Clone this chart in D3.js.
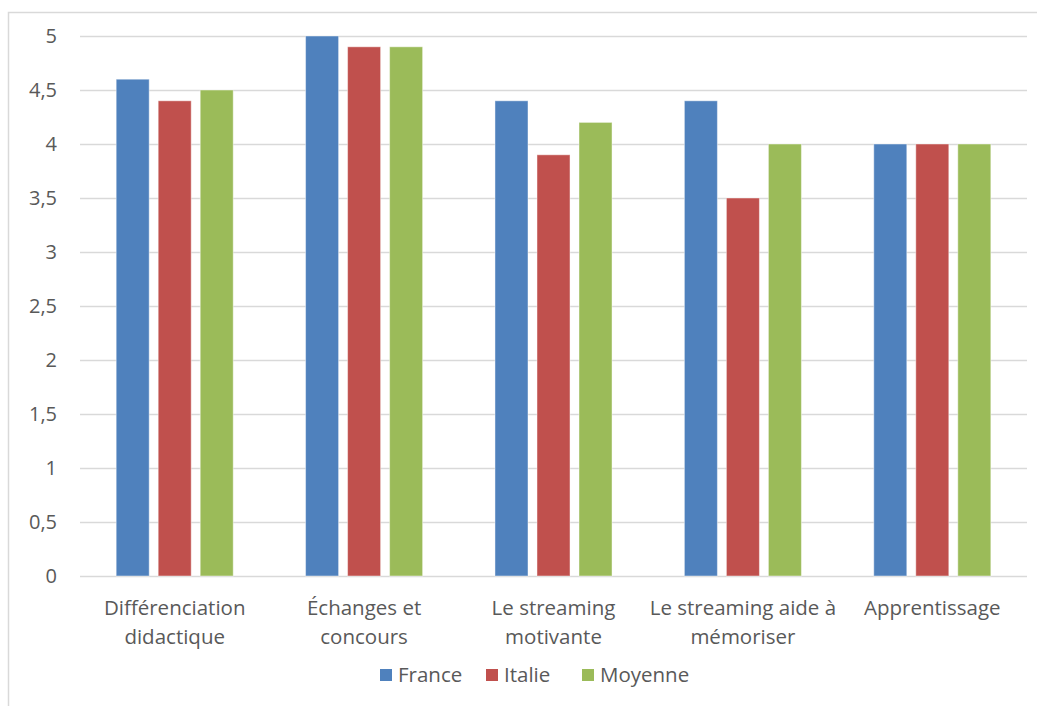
<!DOCTYPE html>
<html>
<head>
<meta charset="utf-8">
<script src="https://cdn.jsdelivr.net/npm/d3@7"></script>
<style>
  html, body { margin: 0; padding: 0; background: #fff; }
  svg { display: block; font-family: "Open Sans", "Liberation Sans", sans-serif; }
</style>
</head>
<body>
<svg id="chart" width="1037" height="706"></svg>
<script>
const categories = [
  ["Différenciation", "didactique"],
  ["Échanges et", "concours"],
  ["Le streaming", "motivante"],
  ["Le streaming aide à", "mémoriser"],
  ["Apprentissage"]
];
const seriesNames = ["France", "Italie", "Moyenne"];
const france  = [4.6, 5.0, 4.4, 4.4, 4.0];
const italie  = [4.4, 4.9, 3.9, 3.5, 4.0];
const moyenne = [4.5, 4.9, 4.2, 4.0, 4.0];
const yTicks = [0, 0.5, 1, 1.5, 2, 2.5, 3, 3.5, 4, 4.5, 5];
const colors = ["#4F81BD", "#C0504D", "#9BBB59"];

const seriesValues = [france, italie, moyenne];
const catKeys = categories.map(c => c.join(" "));

const svg = d3.select("#chart");
const textColor = "#595959";

// outer chart frame
svg.append("rect")
  .attr("x", 8.5).attr("y", 12.5)
  .attr("width", 1040).attr("height", 720)
  .attr("fill", "none").attr("stroke", "#D9D9D9").attr("stroke-width", 1.5);

const plot = { left: 80, right: 1027, top: 36, bottom: 576 };

const y = d3.scaleLinear().domain([0, 5]).range([plot.bottom, plot.top]);
const x0 = d3.scaleBand().domain(catKeys).range([plot.left, plot.right]).padding(0);
const bw = x0.bandwidth();
const x1 = d3.scaleBand().domain(seriesNames)
  .range([bw * 0.191, bw * 0.809]).paddingInner(0.214).paddingOuter(0);

// gridlines
svg.append("g")
  .selectAll("line")
  .data(yTicks)
  .join("line")
  .attr("x1", plot.left).attr("x2", plot.right)
  .attr("y1", d => Math.round(y(d)) + 0.5).attr("y2", d => Math.round(y(d)) + 0.5)
  .attr("stroke", "#D9D9D9").attr("stroke-width", 1.5);

// y axis labels
const fmt = d => String(d).replace(".", ",");
svg.append("g")
  .selectAll("text")
  .data(yTicks)
  .join("text")
  .attr("x", 57).attr("y", d => y(d))
  .attr("dy", "0.35em")
  .attr("text-anchor", "end")
  .attr("fill", textColor)
  .attr("font-size", 20)
  .text(fmt);

// bars
const groups = svg.append("g")
  .selectAll("g")
  .data(catKeys)
  .join("g")
  .attr("transform", d => `translate(${x0(d)},0)`);

groups.selectAll("rect")
  .data((d, i) => seriesNames.map((s, j) => ({ s, j, v: seriesValues[j][i] })))
  .join("rect")
  .attr("x", d => x1(d.s))
  .attr("y", d => y(d.v))
  .attr("width", x1.bandwidth())
  .attr("height", d => y(0) - y(d.v))
  .attr("fill", d => colors[d.j])
  .attr("stroke", "#ffffff").attr("stroke-opacity", 0.45).attr("stroke-width", 1);

// category labels
const labels = svg.append("g")
  .selectAll("text")
  .data(categories)
  .join("text")
  .attr("x", (d, i) => x0(catKeys[i]) + bw / 2)
  .attr("y", 615)
  .attr("text-anchor", "middle")
  .attr("fill", textColor)
  .attr("font-size", 20.5);
labels.selectAll("tspan")
  .data(d => d)
  .join("tspan")
  .attr("x", function () { return this.parentNode.getAttribute("x"); })
  .attr("dy", (d, i) => i === 0 ? 0 : 29)
  .text(d => d);

// legend
const legendItems = [
  { name: "France", x: 380 },
  { name: "Italie", x: 486 },
  { name: "Moyenne", x: 582 }
];
const legend = svg.append("g");
legendItems.forEach((it, i) => {
  legend.append("rect")
    .attr("x", it.x).attr("y", 669)
    .attr("width", 12).attr("height", 12)
    .attr("fill", colors[i]);
  legend.append("text")
    .attr("x", it.x + 18).attr("y", 675)
    .attr("dy", "0.35em")
    .attr("fill", textColor)
    .attr("font-size", 20.5)
    .text(it.name);
});
</script>
</body>
</html>
